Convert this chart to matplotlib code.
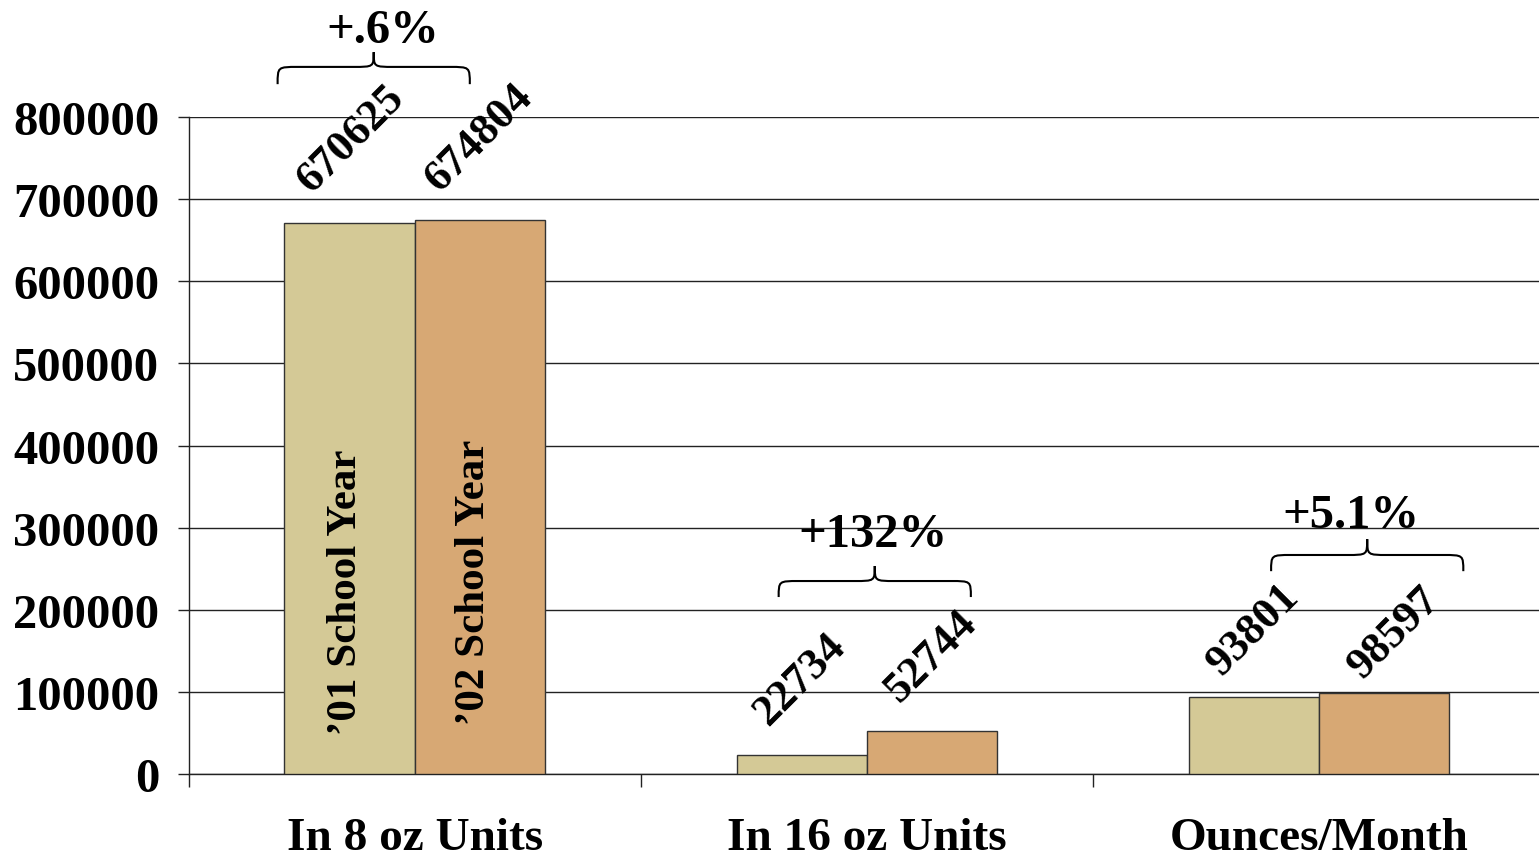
import matplotlib
matplotlib.use("Agg")
import matplotlib.pyplot as plt
from matplotlib.path import Path
from matplotlib.patches import PathPatch
import numpy as np

plt.rcParams['font.family'] = ['Liberation Serif', 'DejaVu Serif']
plt.rcParams['font.weight'] = 'bold'

categories = ["In 8 oz Units", "In 16 oz Units", "Ounces/Month"]
year_2001 = [670625, 22734, 93801]
year_2002 = [674804, 52744, 98597]
series_names = ["\u201901 School Year", "\u201902 School Year"]
pct_labels = ["+.6%", "+132%", "+5.1%"]
yticks = [0, 100000, 200000, 300000, 400000, 500000, 600000, 700000, 800000]

col_01 = "#D4C996"
col_02 = "#D7A874"

fig = plt.figure(figsize=(15.39, 8.62), dpi=100)
ax = fig.add_axes([0.1225, 0.1009, 0.8815, 0.7622])

x = np.arange(len(categories))
w = 0.288
ax.bar(x - w / 2, year_2001, w, color=col_01, edgecolor="#333333", linewidth=1.0, zorder=3)
ax.bar(x + w / 2, year_2002, w, color=col_02, edgecolor="#333333", linewidth=1.0, zorder=3)

ax.set_xlim(-0.5, 2.5)
ax.set_ylim(0, 800000)
ax.set_yticks(yticks)
ax.set_yticklabels([str(v) for v in yticks], fontsize=35, fontweight='bold')
ax.yaxis.grid(True, color="#222222", linewidth=1.0, zorder=0)
ax.set_axisbelow(True)
ax.tick_params(axis='y', length=8, width=1.0, pad=13, color="#222222")

ax.set_xticks(x)
ax.set_xticklabels(categories, fontsize=34, fontweight='bold')
ax.tick_params(axis='x', which='major', length=0, pad=31)
ax.set_xticks([-0.5, 0.5, 1.5], minor=True)
ax.tick_params(axis='x', which='minor', length=9, width=1.0, color="#222222")

for side in ("top", "right"):
    ax.spines[side].set_visible(False)
for side in ("left", "bottom"):
    ax.spines[side].set_color("#222222")
    ax.spines[side].set_linewidth(1.0)

# series names written inside the first pair of bars
ax.text(x[0] - w / 2 - 0.008, 222000, series_names[0], rotation=90, ha='center', va='center',
        fontsize=31, fontweight='bold', zorder=4)
ax.text(x[0] + w / 2 - 0.013, 234000, series_names[1], rotation=90, ha='center', va='center',
        fontsize=31, fontweight='bold', zorder=4)

# rotated value labels above each bar
offsets_01 = [(1, 85), (-2, 77), (-1, 68)]
offsets_02 = [(-1, 83), (-1, 75), (10, 61)]
for i in range(len(categories)):
    ax.annotate(str(year_2001[i]), (x[i] - w / 2, year_2001[i]), xytext=offsets_01[i],
                textcoords='offset pixels', rotation=45, ha='center', va='center',
                fontsize=32, fontweight='bold', annotation_clip=False, zorder=5)
    ax.annotate(str(year_2002[i]), (x[i] + w / 2, year_2002[i]), xytext=offsets_02[i],
                textcoords='offset pixels', rotation=45, ha='center', va='center',
                fontsize=32, fontweight='bold', annotation_clip=False, zorder=5)


def brace(ax, x0, x1, y_end, y_h, y_peak):
    xm = (x0 + x1) / 2
    r = 0.045
    verts = [
        (x0, y_end),
        (x0, y_h), (x0, y_h), (x0 + r, y_h),
        (xm - r, y_h),
        (xm, y_h), (xm, y_h), (xm, y_peak),
        (xm, y_h), (xm, y_h), (xm + r, y_h),
        (x1 - r, y_h),
        (x1, y_h), (x1, y_h), (x1, y_end),
    ]
    codes = [Path.MOVETO,
             Path.CURVE4, Path.CURVE4, Path.CURVE4,
             Path.LINETO,
             Path.CURVE4, Path.CURVE4, Path.CURVE4,
             Path.CURVE4, Path.CURVE4, Path.CURVE4,
             Path.LINETO,
             Path.CURVE4, Path.CURVE4, Path.CURVE4]
    p = PathPatch(Path(verts, codes), facecolor='none', edgecolor='black',
                  linewidth=1.5, clip_on=False, zorder=5)
    ax.add_patch(p)


brace_spans = [(-0.303, 0.122, 840000, 861000, 879000),
               (0.805, 1.230, 215500, 235000, 253300),
               (1.894, 2.319, 247000, 266700, 286000)]
pct_pos = [(-0.071, 906000), (1.013, 292000), (2.071, 316000)]
for span, lab, pos in zip(brace_spans, pct_labels, pct_pos):
    brace(ax, *span)
    ax.text(pos[0], pos[1], lab, ha='center', va='center', fontsize=35,
            fontweight='bold', clip_on=False, zorder=5)

fig.savefig("out.png", dpi=100, facecolor='white')
